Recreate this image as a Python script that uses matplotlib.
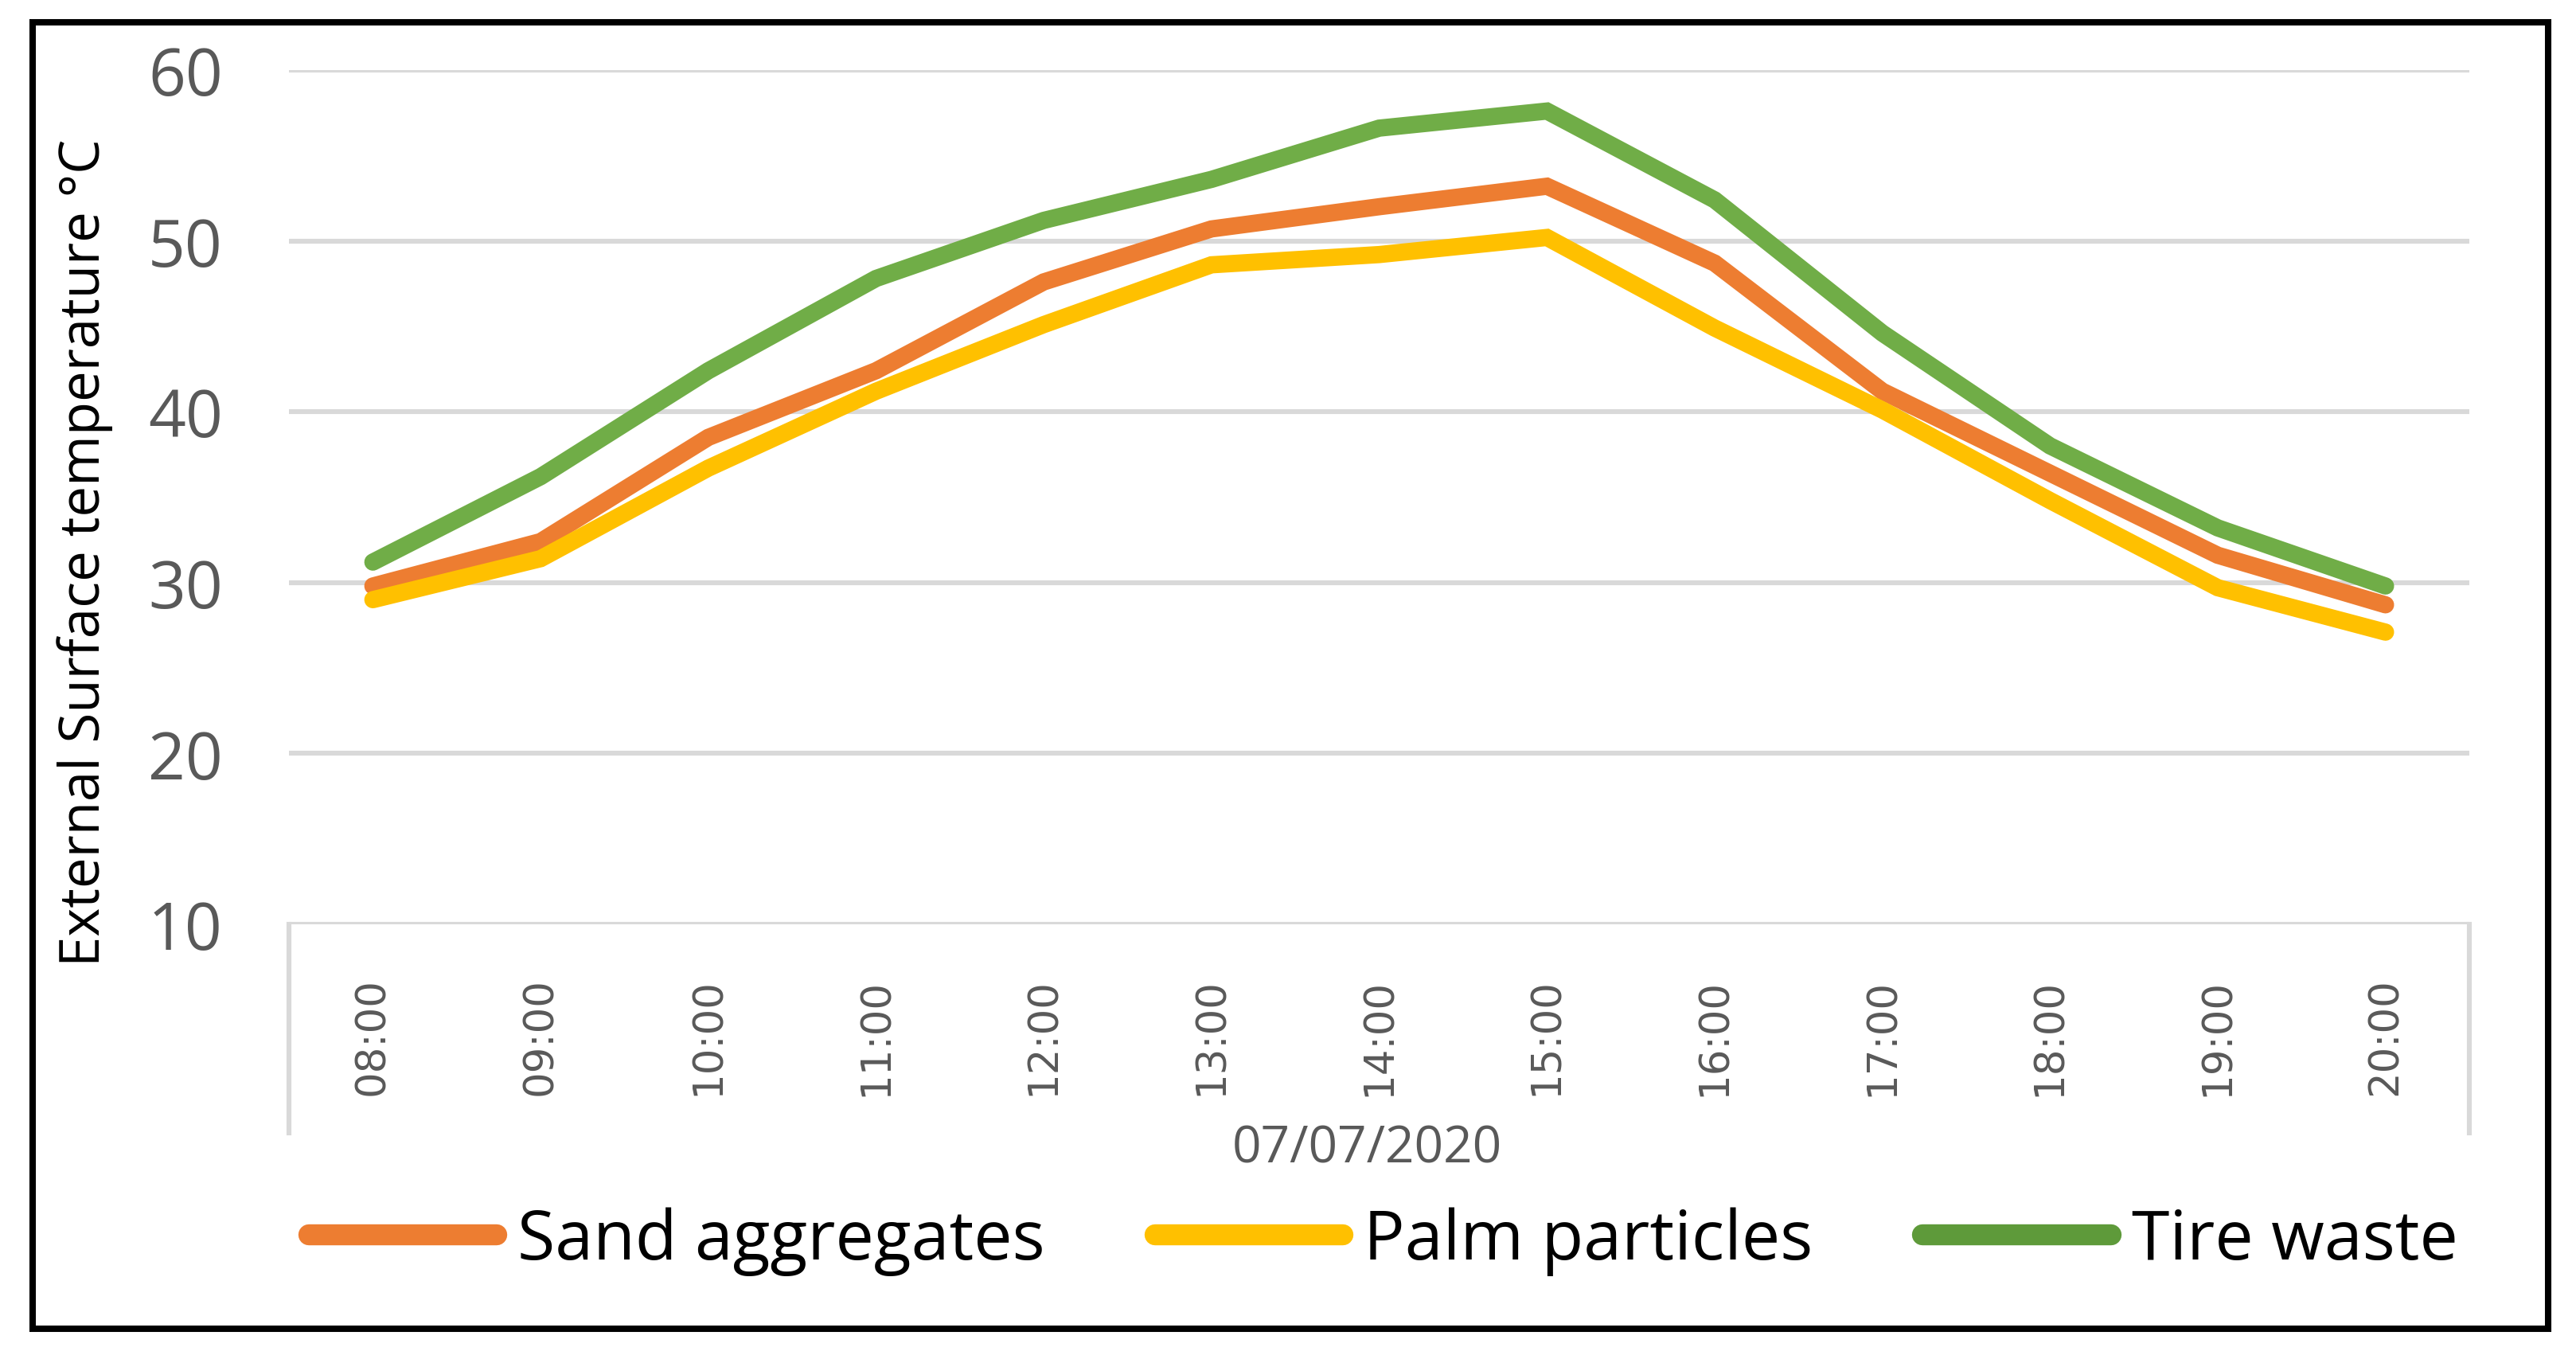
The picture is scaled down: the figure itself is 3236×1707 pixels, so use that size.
import matplotlib
matplotlib.use("Agg")
from matplotlib import pyplot as plt
from matplotlib.lines import Line2D
from matplotlib.patches import Rectangle

# data
hours = ['08:00', '09:00', '10:00', '11:00', '12:00', '13:00', '14:00',
         '15:00', '16:00', '17:00', '18:00', '19:00', '20:00']
sand = [29.8, 32.4, 38.5, 42.4, 47.6, 50.7, 52.0, 53.2, 48.7, 41.2, 36.4, 31.6, 28.7]
palm = [29.0, 31.4, 36.7, 41.2, 45.1, 48.6, 49.2, 50.2, 44.9, 40.1, 34.8, 29.7, 27.1]
tire = [31.2, 36.2, 42.4, 47.8, 51.2, 53.6, 56.6, 57.6, 52.4, 44.6, 38.0, 33.2, 29.8]
series_names = ['Sand aggregates', 'Palm particles', 'Tire waste']
series_colors = ['#ED7D31', '#FFC000', '#70AD47']
legend_colors = ['#ED7D31', '#FFC000', '#5E9A3A']
yticks = [10, 20, 30, 40, 50, 60]
date_label = '07/07/2020'

gray_txt = '#595959'
grid_col = '#D9D9D9'

fig = plt.figure(figsize=(16.18, 8.54), dpi=200)
ax = fig.add_axes([0.1122, 0.3197, 0.9586 - 0.1122, 0.9479 - 0.3197])

x = list(range(len(hours)))
for vals, col in zip([sand, palm, tire], series_colors):
    ax.plot(x, vals, color=col, lw=7.8, solid_capstyle='round', solid_joinstyle='miter', zorder=3)

ax.set_xlim(-0.5, len(hours) - 0.5)
ax.set_ylim(10, 60)
ax.set_yticks(yticks)
ax.set_yticklabels([str(v) for v in yticks], fontsize=29.5, color=gray_txt, family='Open Sans')
ax.set_xticks(x)
ax.set_xticklabels(hours, rotation=90, fontsize=18.5, color=gray_txt, family='DejaVu Sans')
ax.tick_params(axis='y', length=0, pad=30)
ax.tick_params(axis='x', length=0, pad=24)

for s in ax.spines.values():
    s.set_visible(False)
ax.grid(axis='y', color=grid_col, lw=2.2, zorder=0)
ax.grid(axis='x', visible=False)

# category group box below the axis
box_h = 0.244
ax.plot([0, 0], [0, -box_h], transform=ax.transAxes, color=grid_col, lw=2.2, clip_on=False)
ax.plot([1, 1], [0, -box_h], transform=ax.transAxes, color=grid_col, lw=2.2, clip_on=False)

fig.text(0.5306, 0.155, date_label, ha='center', va='center', fontsize=23,
         color=gray_txt, family='Open Sans')
fig.text(0.033, 1 - 694 / 1708, 'External Surface temperature °C', rotation=90,
         ha='center', va='center', fontsize=24.8, color='black', family='Open Sans')

handles = [Line2D([0], [0], color=c, lw=9.5, solid_capstyle='round') for c in legend_colors]
fig.legend(handles, series_names, loc='center', bbox_to_anchor=(0.537, 0.087), ncol=3,
           frameon=False, prop={'family': 'Open Sans', 'size': 31}, handlelength=2.75,
           handletextpad=0.3, columnspacing=1.6)

# outer black border
fig.patches.append(Rectangle((0.0127, 0.0222), 0.9892 - 0.0127, 0.983 - 0.0222,
                             transform=fig.transFigure, fill=False, ec='black', lw=2.9))

fig.savefig('out.png', dpi=200, facecolor='white')
